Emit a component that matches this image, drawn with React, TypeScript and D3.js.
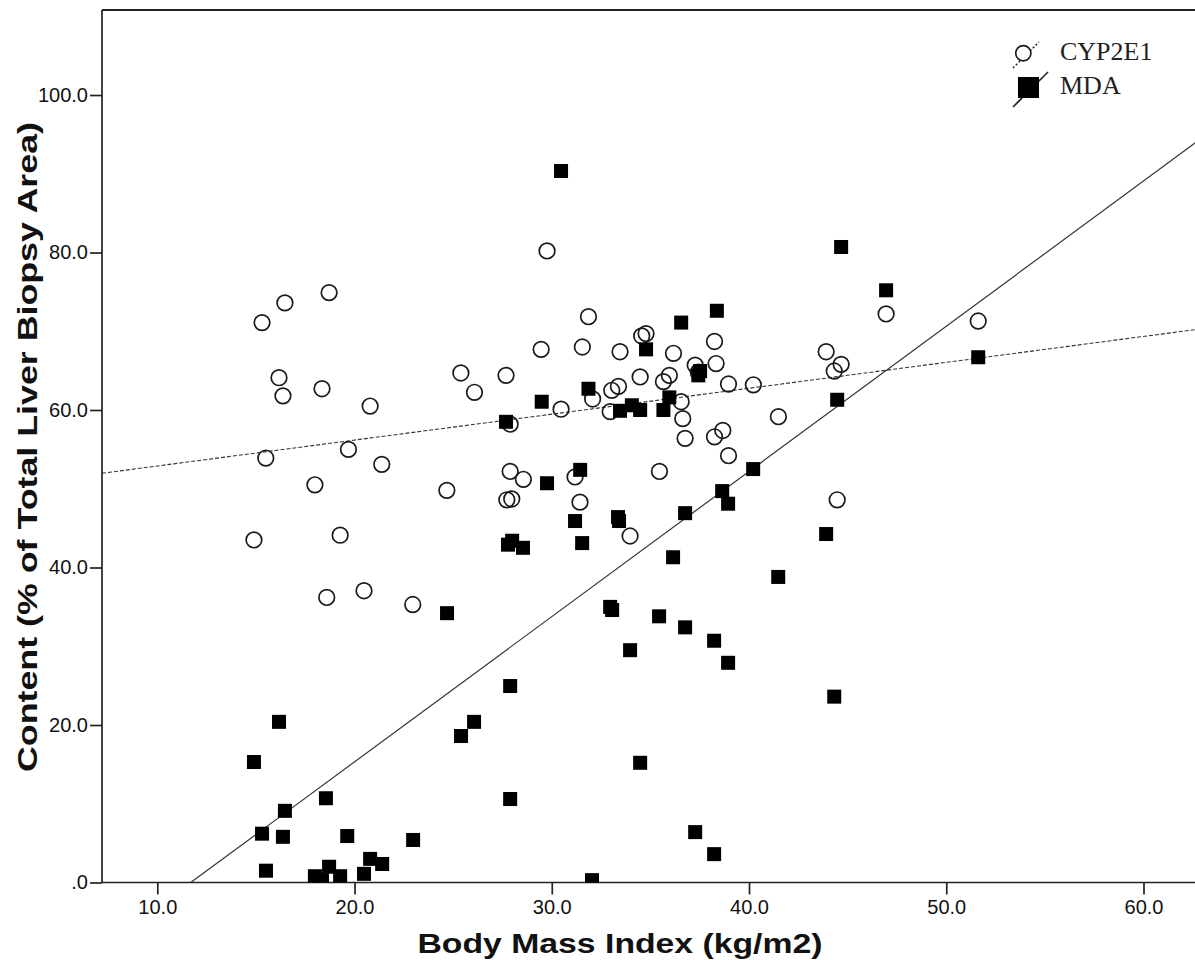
import React, { useEffect, useRef } from 'react';
import * as d3 from 'd3';

// [BMI, content %]
const cyp2e1Points: [number, number][] = [
  [14.9, 43.5], [15.31, 71.1], [15.5, 53.9], [16.17, 64.1], [16.37, 61.8], [16.47, 73.6],
  [17.99, 50.5], [18.35, 62.7], [18.59, 36.2], [18.71, 74.9], [19.27, 44.1], [19.69, 55.0],
  [20.48, 37.05], [20.79, 60.5], [21.38, 53.1], [22.95, 35.3], [24.68, 49.8], [25.39, 64.7],
  [26.08, 62.25], [27.68, 64.4], [27.89, 58.2], [27.89, 52.2], [28.56, 51.2], [27.72, 48.6],
  [27.97, 48.7], [29.46, 67.7], [29.76, 80.2], [30.47, 60.1], [31.18, 51.5], [31.43, 48.3],
  [31.55, 68.0], [31.86, 71.85], [32.07, 61.4], [32.96, 59.8], [33.04, 62.5], [33.38, 63.0],
  [33.46, 67.4], [34.48, 64.2], [34.56, 69.4], [34.78, 69.7], [33.97, 44.0], [35.46, 52.2],
  [35.66, 63.6], [35.96, 64.4], [36.17, 67.2], [36.56, 61.05], [36.64, 58.9], [36.76, 56.4],
  [37.27, 65.7], [37.43, 64.8], [38.25, 68.7], [38.33, 65.9], [38.25, 56.6], [38.67, 57.4],
  [38.96, 63.3], [38.96, 54.2], [40.22, 63.2], [41.49, 59.15], [43.91, 67.4], [44.32, 64.95],
  [44.67, 65.8], [44.47, 48.6], [46.95, 72.2], [51.62, 71.3],
];

const mdaPoints: [number, number][] = [
  [14.9, 15.3], [15.31, 6.2], [15.51, 1.5], [16.17, 20.4], [16.37, 5.8], [16.47, 9.1],
  [17.99, 0.8], [18.35, 0.3], [18.55, 10.7], [18.71, 2.0], [19.27, 0.8], [19.63, 5.9],
  [20.48, 1.1], [20.79, 3.0], [21.4, 2.35], [22.97, 5.4], [24.69, 34.2], [25.4, 18.6],
  [26.06, 20.4], [27.68, 58.5], [27.78, 42.9], [27.99, 43.4], [27.89, 24.95], [27.89, 10.6],
  [28.54, 42.5], [29.49, 61.05], [29.76, 50.7], [30.47, 90.35], [31.18, 45.9], [31.44, 52.4],
  [31.54, 43.1], [31.86, 62.7], [32.04, 0.3], [32.96, 35.0], [33.06, 34.6], [33.36, 46.4],
  [33.41, 45.9], [33.46, 59.9], [34.06, 60.6], [34.48, 60.0], [33.97, 29.5], [34.48, 15.2],
  [34.78, 67.7], [35.44, 33.8], [35.66, 60.0], [35.96, 61.6], [36.15, 41.3], [36.56, 71.1],
  [36.76, 46.9], [36.76, 32.4], [37.27, 6.4], [37.43, 64.4], [37.52, 64.95], [38.37, 72.6],
  [38.23, 3.6], [38.23, 30.7], [38.64, 49.7], [38.94, 48.1], [38.94, 27.9], [40.21, 52.5],
  [41.48, 38.8], [43.91, 44.25], [44.32, 23.6], [44.47, 61.3], [44.67, 80.7], [46.95, 75.2],
  [51.62, 66.7],
];

// fit lines: content = intercept + slope * BMI
const cypFit = { intercept: 49.6, slope: 0.329 };
const mdaFit = { intercept: -21.56, slope: 1.844 };

const xTicks = [10, 20, 30, 40, 50, 60];
const yTicks = [0, 20, 40, 60, 80, 100];

const legendItems = ['CYP2E1', 'MDA'];

const W = 1195;
const H = 960;

const App = () => {
  const ref = useRef<SVGSVGElement>(null);

  useEffect(() => {
    const svg = d3.select(ref.current);
    svg.selectAll('*').remove();

    const left = 102;
    const top = 10;
    const bottom = 882.5;
    const right = 1203;

    const x = d3.scaleLinear().domain([10, 60]).range([157.3, 1143.5]);
    const y = d3.scaleLinear().domain([0, 100]).range([bottom, 95]);
    const xMin = x.invert(left);
    const xMax = x.invert(right);

    svg.append('defs').append('clipPath').attr('id', 'plot')
      .append('rect').attr('x', left).attr('y', top)
      .attr('width', right - left).attr('height', bottom - top);

    const font = 'Liberation Sans, Arial, Helvetica, sans-serif';

    // axes
    const yAxis = svg.append('g')
      .attr('transform', `translate(${left},0)`)
      .call(d3.axisLeft(y).tickValues(yTicks).tickSize(12).tickPadding(2)
        .tickFormat(d => (+d === 0 ? '.0' : (+d).toFixed(1))));
    const xAxis = svg.append('g')
      .attr('transform', `translate(0,${bottom})`)
      .call(d3.axisBottom(x).tickValues(xTicks).tickSize(12).tickPadding(5)
        .tickFormat(d => (+d).toFixed(1)));
    [yAxis, xAxis].forEach(a => {
      a.select('.domain').remove();
      a.selectAll('line').attr('stroke', '#222').attr('stroke-width', 1.7);
      a.selectAll('text').attr('fill', '#111').attr('font-family', font).attr('font-size', 20);
    });

    // frame
    svg.append('line').attr('x1', left).attr('x2', left).attr('y1', top).attr('y2', bottom)
      .attr('stroke', '#222').attr('stroke-width', 1.7);
    svg.append('line').attr('x1', left).attr('x2', W).attr('y1', bottom).attr('y2', bottom)
      .attr('stroke', '#222').attr('stroke-width', 1.7);
    svg.append('line').attr('x1', left).attr('x2', W).attr('y1', top).attr('y2', top)
      .attr('stroke', '#222').attr('stroke-width', 1.8);

    const plot = svg.append('g').attr('clip-path', 'url(#plot)');

    // fit lines
    const fitLine = d3.line<number>().x(d => x(d)).y(d => y(cypFit.intercept + cypFit.slope * d));
    plot.append('path').attr('d', fitLine([xMin, xMax]))
      .attr('fill', 'none').attr('stroke', '#333').attr('stroke-width', 1.1)
      .attr('stroke-dasharray', '4,2');
    const mdaStart = -mdaFit.intercept / mdaFit.slope;
    const mdaLine = d3.line<number>().x(d => x(d)).y(d => y(mdaFit.intercept + mdaFit.slope * d));
    plot.append('path').attr('d', mdaLine([mdaStart, xMax]))
      .attr('fill', 'none').attr('stroke', '#333').attr('stroke-width', 1.2);

    // points
    plot.selectAll('.cyp').data(cyp2e1Points).enter().append('circle')
      .attr('class', 'cyp')
      .attr('cx', d => x(d[0])).attr('cy', d => y(d[1])).attr('r', 7.8)
      .attr('fill', 'none').attr('stroke', '#1a1a1a').attr('stroke-width', 1.7);

    const s = 14;
    plot.selectAll('.mda').data(mdaPoints).enter().append('rect')
      .attr('class', 'mda')
      .attr('x', d => x(d[0]) - s / 2).attr('y', d => y(d[1]) - s / 2)
      .attr('width', s).attr('height', s).attr('fill', '#000');

    // axis titles
    svg.append('text').text('Body Mass Index (kg/m2)')
      .attr('x', 620).attr('y', 953).attr('text-anchor', 'middle')
      .attr('font-family', font).attr('font-weight', 'bold').attr('font-size', 28)
      .attr('textLength', 405).attr('lengthAdjust', 'spacingAndGlyphs').attr('fill', '#111');
    svg.append('text').text('Content (% of Total Liver Biopsy Area)')
      .attr('transform', 'translate(37,447) rotate(-90)').attr('text-anchor', 'middle')
      .attr('font-family', font).attr('font-weight', 'bold').attr('font-size', 28)
      .attr('textLength', 650).attr('lengthAdjust', 'spacingAndGlyphs').attr('fill', '#111');

    // legend
    const lg = svg.append('g');
    lg.append('line').attr('x1', 1013).attr('y1', 68).attr('x2', 1039).attr('y2', 42)
      .attr('stroke', '#222').attr('stroke-width', 1.5).attr('stroke-dasharray', '2,2');
    lg.append('circle').attr('cx', 1023.3).attr('cy', 53.3).attr('r', 7.6)
      .attr('fill', '#fff').attr('stroke', '#1a1a1a').attr('stroke-width', 1.7);
    lg.append('line').attr('x1', 1013).attr('y1', 107).attr('x2', 1048).attr('y2', 72)
      .attr('stroke', '#222').attr('stroke-width', 1.6);
    lg.append('rect').attr('x', 1018).attr('y', 77).attr('width', 21).attr('height', 21)
      .attr('fill', '#000');
    lg.selectAll('.lt').data(legendItems).enter().append('text')
      .attr('class', 'lt')
      .attr('x', 1060).attr('y', (d, i) => 60 + i * 34)
      .attr('font-family', 'Liberation Serif, Times New Roman, serif').attr('font-size', 26)
      .attr('fill', '#222').text(d => d);
  }, []);

  return (
    <svg ref={ref} width={W} height={H}
      style={{ position: 'absolute', left: 0, top: 0, background: '#fff' }} />
  );
};

export default App;
